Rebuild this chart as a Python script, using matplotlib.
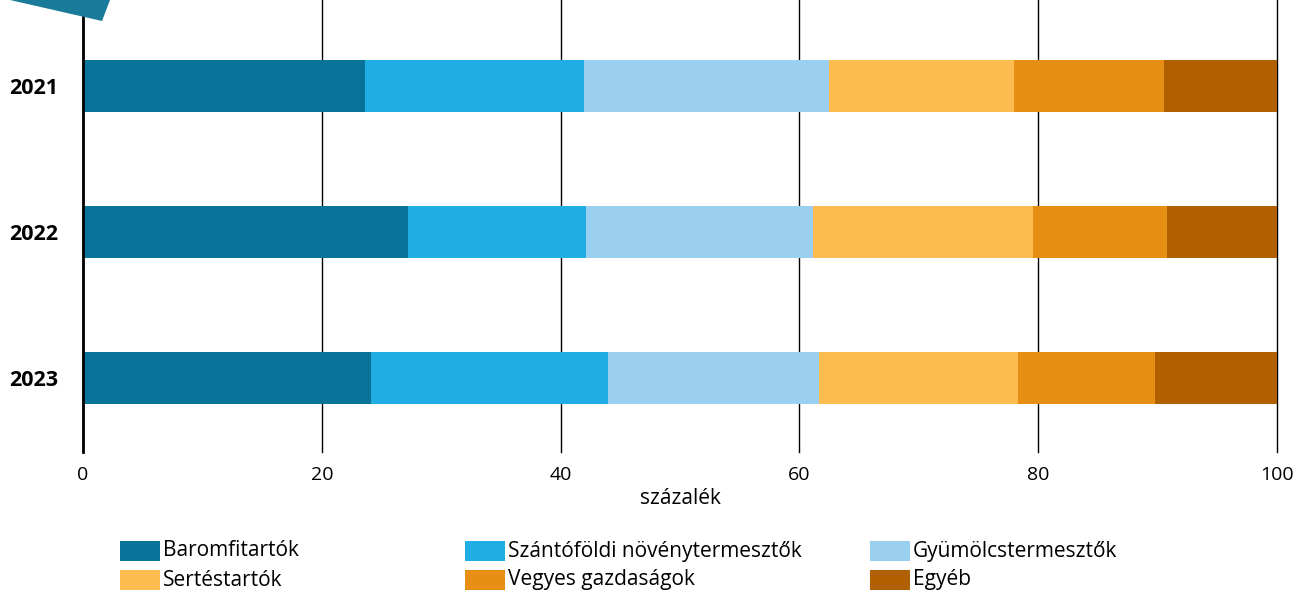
import numpy as np
import matplotlib.pyplot as plt
from matplotlib.patches import Polygon, Rectangle

plt.rcParams['font.family'] = ['Open Sans', 'DejaVu Sans']

# adatok (százalék)
evek = ['2021', '2022', '2023']
kategoriak = ['Baromfitartók', 'Szántóföldi növénytermesztők', 'Gyümölcstermesztők',
              'Sertéstartók', 'Vegyes gazdaságok', 'Egyéb']
baromfi = [23.6, 27.2, 24.1]
szanto = [18.4, 14.9, 19.9]
gyumolcs = [20.5, 19.0, 17.6]
sertes = [15.5, 18.5, 16.7]
vegyes = [12.5, 11.2, 11.5]
egyeb = [9.5, 9.2, 10.2]
szinek = ['#087399', '#1fade3', '#9bcfef', '#fdbc4f', '#e68f14', '#b06000']
xtickek = [0, 20, 40, 60, 80, 100]

sorozatok = [baromfi, szanto, gyumolcs, sertes, vegyes, egyeb]

fig = plt.figure(figsize=(12.97, 5.92), dpi=100)
W, H = 1297, 592
ax = fig.add_axes([83 / W, 1 - 452 / H, (1277 - 83) / W, 452 / H])

y = np.arange(len(evek))
bal = np.zeros(len(evek))
for adat, szin, nev in zip(sorozatok, szinek, kategoriak):
    ax.barh(y, adat, left=bal, height=0.356, color=szin, label=nev, zorder=2)
    bal += np.array(adat)

ax.set_xlim(0, 100)
ax.set_ylim(2.507, -0.589)
ax.set_yticks(y)
ax.set_yticklabels(evek, fontsize=15.5, fontweight='bold')
ax.set_xticks(xtickek)
ax.set_xticklabels([str(t) for t in xtickek], fontsize=14)
ax.tick_params(length=0, pad=10)
ax.tick_params(axis='y', pad=18)
ax.grid(axis='x', color='black', linewidth=1, zorder=0)
for gl in ax.get_xgridlines():
    gl.set_clip_on(False)
for s in ['top', 'right', 'bottom']:
    ax.spines[s].set_visible(False)
ax.spines['left'].set_linewidth(2)
ax.spines['left'].set_zorder(3)
ax.set_xlabel('százalék', fontsize=15, labelpad=3)

# dekoráció a bal felső sarokban
fig.patches.append(Polygon([[10 / W, 1.0], [110 / W, 1.0], [102 / W, 1 - 21 / H]],
                           closed=True, transform=fig.transFigure,
                           facecolor='#1a7a9a', edgecolor='none'))

# jelmagyarázat kézzel, három oszlopban
oszlop_x = [120, 465, 870]
sor_y = [551, 580]
for i, (nev, szin) in enumerate(zip(kategoriak, szinek)):
    px = oszlop_x[i % 3]
    py = sor_y[i // 3]
    fig.patches.append(Rectangle((px / W, 1 - (py + 10) / H), 40 / W, 20 / H,
                                 transform=fig.transFigure, facecolor=szin,
                                 edgecolor='none'))
    fig.text((px + 43) / W, 1 - py / H, nev, fontsize=15, va='center', ha='left')

fig.savefig('out.png', dpi=100)
